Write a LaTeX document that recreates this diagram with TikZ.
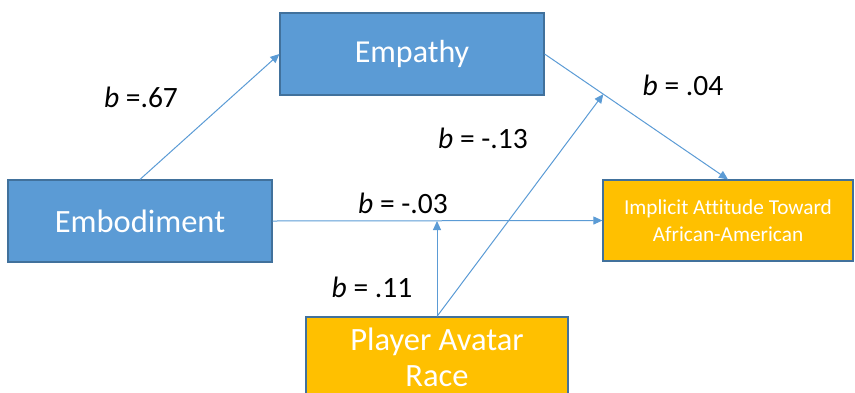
\documentclass[tikz,border=0pt]{standalone}
\usepackage{fontspec}
\setmainfont[Ligatures=CommonOff]{Carlito}
\usetikzlibrary{arrows.meta,calc}
\definecolor{bfill}{HTML}{5B9BD5}
\definecolor{bline}{HTML}{41719C}
\definecolor{ofill}{HTML}{FFC000}
\definecolor{arr}{HTML}{5B9BD5}
\begin{document}
\begin{tikzpicture}[x=1pt,y=-1pt,
  box/.style={draw=bline,line width=1.2pt,text=white,align=center,inner sep=0pt},
  bluebox/.style={box,fill=bfill},
  orangebox/.style={box,fill=ofill},
  conn/.style={draw=arr,line width=1pt,-{Triangle[length=9pt,width=8pt]}},
  lab/.style={anchor=base,font=\fontsize{29.5}{34}\selectfont,inner sep=0pt}
]
\useasboundingbox (0,0) rectangle (855,392);
\node[bluebox,minimum width=264,minimum height=82,font=\fontsize{32}{37}\selectfont] (emp) at (412,54) {Empathy};
\node[bluebox,minimum width=264,minimum height=82,font=\fontsize{32.5}{37}\selectfont] (emb) at (140,221) {Embodiment};
\node[orangebox,minimum width=250,minimum height=81,font=\fontsize{21.3}{27}\selectfont] (imp) at (728,220.5) {Implicit Attitude Toward\\African-American};
\node[orangebox,minimum width=262,minimum height=80,font=\fontsize{32.5}{36}\selectfont] (pl) at (437,357) {Player Avatar\\Race};
\coordinate (d) at ($(emp.east)!0.32!(imp.north)$);
\draw[conn] (emb.north) -- (emp.west);
\draw[conn] (emp.east) -- (imp.north);
\draw[conn] (emb.east) -- (imp.west);
\draw[conn] (pl.north) -- (pl.north |- emb.east);
\draw[conn] (pl.north) -- (d);
\node[lab] (l1) at (141,107) {\textit{b} =.67};
\node[lab] (l2) at (683,95) {\textit{b} = .04};
\node[lab] (l3) at (483,148) {\textit{b} = -.13};
\node[lab] (l4) at (403,213) {\textit{b} = -.03};
\node[lab] (l5) at (372,297) {\textit{b} = .11};
\end{tikzpicture}
\end{document}
